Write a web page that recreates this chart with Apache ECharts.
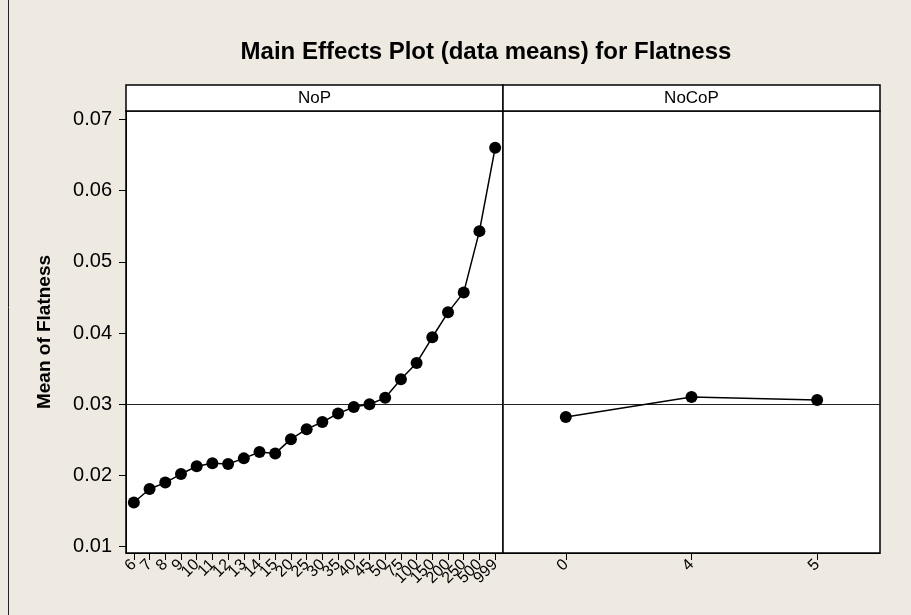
<!DOCTYPE html>
<html>
<head>
<meta charset="utf-8">
<script src="https://cdn.jsdelivr.net/npm/echarts@6/dist/echarts.min.js"></script>
<style>
html,body{margin:0;padding:0;background:#EEEAE1;}
#chart{width:911px;height:615px;}
</style>
</head>
<body>
<div id="chart"></div>
<script>
// ---- data ----
const chartTitle = 'Main Effects Plot (data means) for Flatness';
const yAxisTitle = 'Mean of Flatness';
const panelNames = ['NoP', 'NoCoP'];
const nopLevels = ['6','7','8','9','10','11','12','13','14','15','20','25','30','35','40','45','50','75','100','150','200','250','500','999'];
const nopMeans = [0.0162,0.0181,0.0190,0.0202,0.0213,0.0217,0.0216,0.0224,0.0233,0.0231,0.0251,0.0265,0.0275,0.0287,0.0296,0.0300,0.0309,0.0335,0.0358,0.0394,0.0429,0.0457,0.0543,0.0660];
const nocopLevels = ['0','4','5'];
const nocopMeans = [0.0282,0.0310,0.0306];
const grandMean = 0.03;
const yTickValues = [0.01,0.02,0.03,0.04,0.05,0.06,0.07];

// ---- chart ----
const FONT = 'Liberation Sans, Arial, sans-serif';
const chart = echarts.init(document.getElementById('chart'));
const yMin = 0.009116, yMax = 0.071164;
const gridTop = 111, gridH = 442;
const panels = [{left:126,width:377},{left:503,width:377}];

function xAxis(idx, cats){
  return {
    type:'category', gridIndex:idx, data:cats, boundaryGap:true,
    axisLine:{show:true, lineStyle:{color:'#000', width:1}},
    axisTick:{show:true, alignWithLabel:true, length:7, lineStyle:{color:'#000', width:1}},
    axisLabel:{interval:0, rotate:45, margin:9, color:'#000', fontSize:16, fontFamily:FONT},
    splitLine:{show:false}
  };
}
function yAxis(idx, showLabels){
  return {
    type:'value', gridIndex:idx, min:yMin, max:yMax,
    name: showLabels ? yAxisTitle : '',
    nameLocation:'middle', nameGap:72, nameRotate:90,
    nameTextStyle:{color:'#000', fontSize:19, fontWeight:'bold', fontFamily:FONT},
    axisLine:{show:showLabels, lineStyle:{color:'#000'}},
    axisTick:{show:showLabels, length:7, customValues:yTickValues, lineStyle:{color:'#000'}},
    axisLabel:{show:showLabels, customValues:yTickValues, margin:14, color:'#000', fontSize:20, fontFamily:FONT,
      formatter:v=>Number(v).toFixed(2)},
    splitLine:{show:false}
  };
}
function series(idx, vals){
  return {
    type:'line', xAxisIndex:idx, yAxisIndex:idx, data:vals,
    symbol:'circle', symbolSize:12, showSymbol:true,
    itemStyle:{color:'#000'}, lineStyle:{color:'#000', width:1.5},
    z:3,
    markLine:{silent:true, symbol:'none', label:{show:false},
      lineStyle:{color:'#222', width:1, type:'solid'},
      data:[{yAxis:grandMean}], z:2}
  };
}

const graphics = [
  {type:'line', shape:{x1:8.5,y1:0,x2:8.5,y2:615}, style:{stroke:'#222', lineWidth:1}},
  {type:'text', style:{text:chartTitle, x:486, y:52, textAlign:'center', textVerticalAlign:'middle',
    font:'bold 24px '+FONT, fill:'#000'}}
];
panels.forEach((p,i)=>{
  graphics.push({type:'rect', shape:{x:p.left, y:85, width:p.width, height:gridTop-85},
    style:{fill:'#fff', stroke:'#000', lineWidth:1.5}});
  graphics.push({type:'text', style:{text:panelNames[i], x:p.left+p.width/2, y:98.5, textAlign:'center', textVerticalAlign:'middle',
    font:'17px '+FONT, fill:'#000'}});
});

chart.setOption({
  backgroundColor:'#EEEAE1',
  animation:false,
  grid: panels.map(p=>({left:p.left, top:gridTop, width:p.width, height:gridH, show:true,
    backgroundColor:'#fff', borderColor:'#000', borderWidth:1.5, containLabel:false})),
  xAxis:[xAxis(0, nopLevels), xAxis(1, nocopLevels)],
  yAxis:[yAxis(0, true), yAxis(1, false)],
  series:[series(0, nopMeans), series(1, nocopMeans)],
  graphic: graphics
});
</script>
</body>
</html>
